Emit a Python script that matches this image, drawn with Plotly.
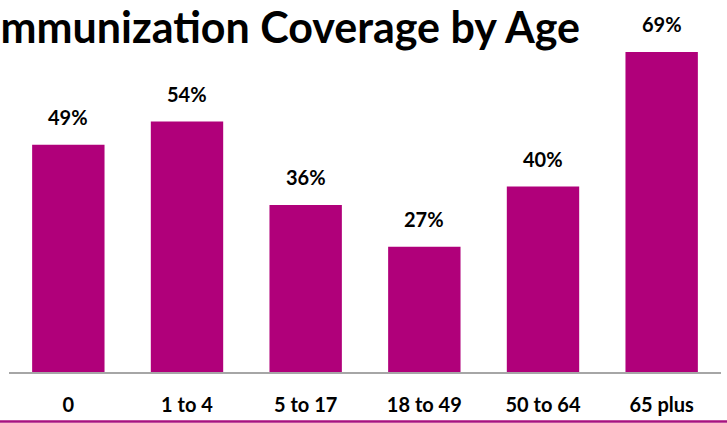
import plotly.graph_objects as go

categories = ["0", "1 to 4", "5 to 17", "18 to 49", "50 to 64", "65 plus"]
coverage = [49, 54, 36, 27, 40, 69]
labels = ["49%", "54%", "36%", "27%", "40%", "69%"]
title_text = "Immunization Coverage by Age"

BAR = "#B0007A"
FONT = "Lato, 'Open Sans', sans-serif"

fig = go.Figure(go.Bar(x=categories, y=coverage, marker_color=BAR, marker_line_width=0,
                       hoverinfo="skip"))

for c, v, t in zip(categories, coverage, labels):
    fig.add_annotation(x=c, y=v, text=f"<b>{t}</b>", showarrow=False, yanchor="bottom",
                       yshift=14, font=dict(family=FONT, size=20, color="#000"))

fig.add_annotation(xref="paper", yref="paper", x=0.805, y=1.0, xanchor="right", yanchor="top",
                   yshift=2, text=f"<b>{title_text}</b>", showarrow=False,
                   font=dict(family=FONT, size=43, color="#000"))

fig.add_shape(type="line", xref="paper", yref="paper", x0=-0.02, x1=1.01,
              y0=-0.1334, y1=-0.1334, line=dict(color="#A8137F", width=2.5))

fig.update_layout(
    width=727, height=423,
    margin=dict(l=9, r=6, t=1, b=51, autoexpand=False),
    paper_bgcolor="white", plot_bgcolor="white",
    bargap=0.39, showlegend=False,
    xaxis=dict(showline=True, linecolor="#A6A6A6", linewidth=2, ticks="",
               automargin=False, ticklabelstandoff=14,
               tickfont=dict(family=FONT, size=20, color="#000"),
               tickprefix="<b>", ticksuffix="</b>"),
    yaxis=dict(range=[0, 80], visible=False, showgrid=False, automargin=False),
)

fig.write_html("out.html", config={"displayModeBar": False},
               post_script="document.body.style.margin='0';document.body.style.overflow='hidden';")
